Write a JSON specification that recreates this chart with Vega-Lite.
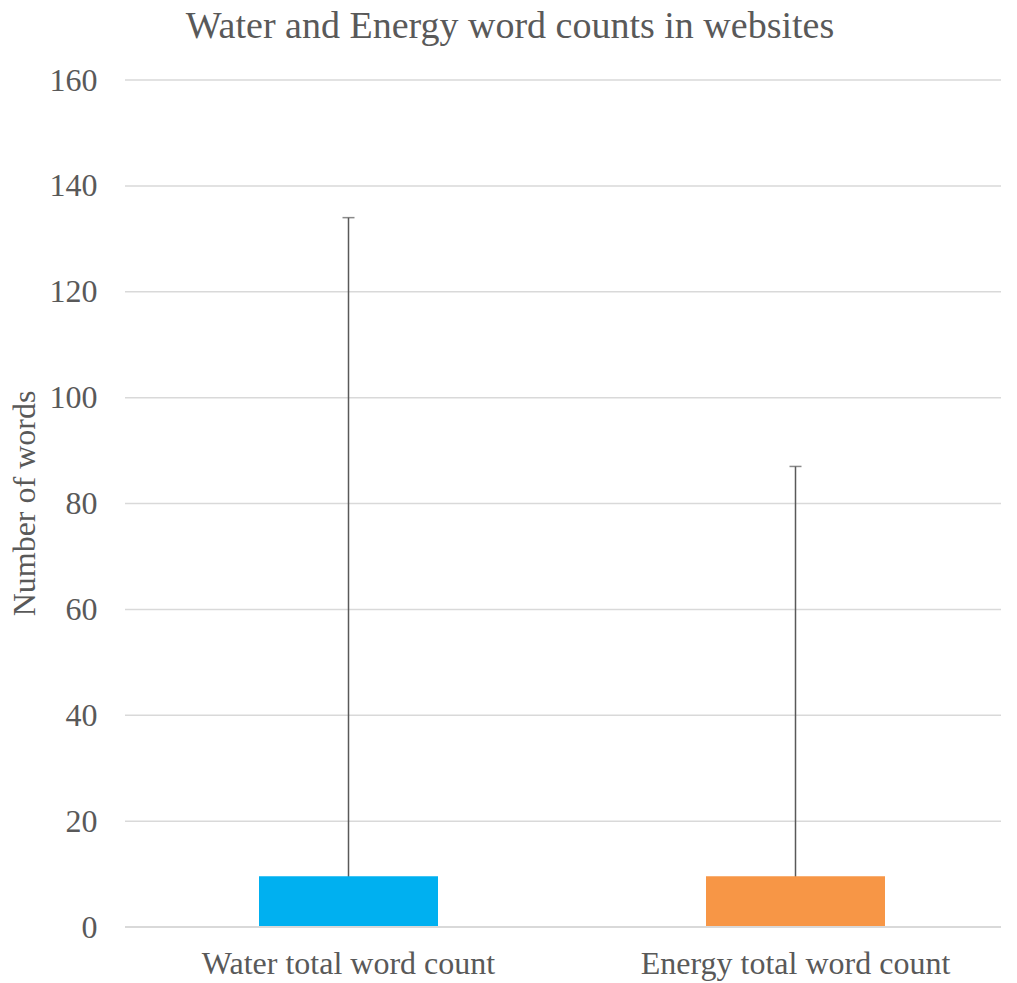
{
  "$schema": "https://vega.github.io/schema/vega-lite/v6.json",
  "width": 876,
  "height": 847,
  "autosize": {"type": "none"},
  "padding": {"left": 125, "top": 80, "right": 16, "bottom": 56},
  "background": "white",
  "title": {
    "text": "Water and Energy word counts in websites",
    "anchor": "middle",
    "frame": "group",
    "dx": -53,
    "offset": 18,
    "font": "Liberation Serif",
    "fontSize": 38,
    "fontWeight": "normal",
    "color": "#595959"
  },
  "config": {
    "view": {"stroke": null},
    "font": "Liberation Serif"
  },
  "datasets": {
    "bars": [
      {"category": "Water total word count", "mean": 9.6, "low": 0, "high": 134},
      {"category": "Energy total word count", "mean": 9.6, "low": 0, "high": 87}
    ],
    "grid": [
      {"value": 20}, {"value": 40}, {"value": 60}, {"value": 80},
      {"value": 100}, {"value": 120}, {"value": 140}, {"value": 160}
    ]
  },
  "layer": [
    {
      "data": {"name": "grid"},
      "mark": {"type": "rule", "color": "#d9d9d9", "strokeWidth": 1.5},
      "encoding": {
        "y": {
          "field": "value",
          "type": "quantitative",
          "scale": {"domain": [0, 160], "nice": false},
          "axis": {
            "title": "Number of words",
            "titleFont": "Liberation Serif",
            "titleFontSize": 32,
            "titleFontWeight": "normal",
            "titleColor": "#595959",
            "titleAngle": -90,
            "titleAlign": "center",
            "titleBaseline": "middle",
            "titleX": -101,
            "titleY": 423,
            "values": [0, 20, 40, 60, 80, 100, 120, 140, 160],
            "labelFont": "Liberation Serif",
            "labelFontSize": 32,
            "labelColor": "#595959",
            "labelPadding": 28,
            "ticks": false,
            "domain": false,
            "grid": false
          }
        }
      }
    },
    {
      "data": {"name": "bars"},
      "encoding": {
        "x": {
          "field": "category",
          "type": "nominal",
          "sort": null,
          "scale": {"range": [0, 894], "paddingInner": 0, "paddingOuter": 0},
          "axis": {
            "title": null,
            "labelAngle": 0,
            "labelFont": "Liberation Serif",
            "labelFontSize": 32,
            "labelColor": "#595959",
            "labelPadding": 21,
            "labelLimit": 0,
            "ticks": false,
            "domain": false,
            "grid": false
          }
        }
      },
      "layer": [
        {
          "mark": {"type": "rule", "color": "#595959", "strokeWidth": 1.5},
          "encoding": {
            "y": {"field": "low", "type": "quantitative"},
            "y2": {"field": "high"}
          }
        },
        {
          "mark": {"type": "bar", "size": 179},
          "encoding": {
            "y": {"field": "mean", "type": "quantitative"},
            "color": {
              "field": "category",
              "type": "nominal",
              "sort": null,
              "scale": {"range": ["#00b0f0", "#f79646"]},
              "legend": null
            }
          }
        },
        {
          "mark": {"type": "tick", "color": "#595959", "size": 12, "thickness": 1.5},
          "encoding": {
            "y": {"field": "high", "type": "quantitative"}
          }
        }
      ]
    },
    {
      "data": {"values": [{"value": 0}]},
      "mark": {"type": "rule", "color": "#d9d9d9", "strokeWidth": 2},
      "encoding": {
        "y": {"field": "value", "type": "quantitative"}
      }
    }
  ]
}
